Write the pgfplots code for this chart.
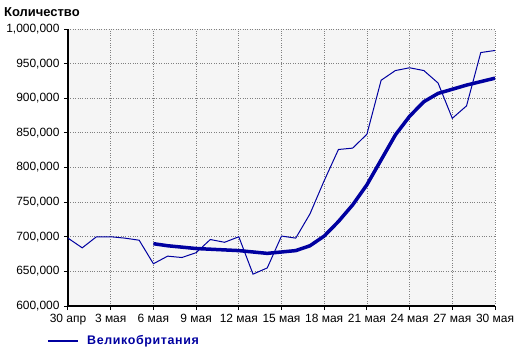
\documentclass[border=0pt]{standalone}
\usepackage{fontspec}
\setmainfont{Liberation Sans}
\usepackage{pgfplots}
\pgfplotsset{compat=1.18}
\definecolor{lineblue}{RGB}{0,0,160}
\definecolor{bgc}{RGB}{245,245,245}
\definecolor{gridc}{RGB}{128,128,128}
\begin{document}
\begin{tikzpicture}[x=1bp,y=1bp]
\useasboundingbox (-68bp,-47bp) rectangle (452bp,306bp);
\begin{axis}[
  at={(0,0)}, anchor=south west,
  scale only axis, width=427bp, height=277bp,
  xmin=0, xmax=30, ymin=600000, ymax=1000000,
  axis x line=bottom, axis y line=left,
  axis line style={black, line width=2bp, -},
  axis background/.style={fill=bgc},
  xtick={0,3,...,30},
  xticklabels={30 апр,3 мая,6 мая,9 мая,12 мая,15 мая,18 мая,21 мая,24 мая,27 мая,30 мая},
  ytick={600000,650000,...,1000000},
  scaled y ticks=false,
  /pgf/number format/fixed,
  /pgf/number format/1000 sep={,},
  /pgf/number format/assume math mode=true,
  tick label style={font=\fontsize{12}{14}\selectfont, black},
  xticklabel style={yshift=-1bp},
  yticklabel style={xshift=-1bp},
  tick style={black, line width=1bp},
  major tick length=4bp,
  tick align=outside,
  grid=major,
  major grid style={gridc, dotted, line width=0.8bp},
  clip=false,
]
\addplot[lineblue, line width=1bp] coordinates {
(0,698000) (1,684000) (2,700000) (3,700000) (4,698000) (5,695000)
(6,661000) (7,672000) (8,670000) (9,677000) (10,696000) (11,692000)
(12,700000) (13,646000) (14,655000) (15,701000) (16,698000) (17,733000)
(18,781000) (19,826000) (20,828000) (21,848000) (22,926000) (23,940000)
(24,944000) (25,940000) (26,922000) (27,871000) (28,889000) (29,966000)
(30,969000)
};
\addplot[lineblue, line width=3.5bp] coordinates {
(6,690000) (7,687000) (8,685000) (9,683000) (10,682000) (11,681000)
(12,680000) (13,678000) (14,676000) (15,678000) (16,680000) (17,687000)
(18,701000) (19,722000) (20,746000) (21,775000) (22,811000) (23,847000)
(24,874000) (25,895000) (26,907000) (27,913000) (28,919000) (29,924000)
(30,929000)
};
\end{axis}
\node[anchor=west, inner sep=0pt, font=\fontsize{13}{15}\selectfont\bfseries] at (-64bp,294bp) {Количество};
\draw[lineblue, line width=2.5bp] (-20bp,-35bp) -- (10bp,-35bp);
\node[anchor=west, inner sep=0pt, text=lineblue, font=\fontsize{12.5}{14}\selectfont\bfseries\addfontfeature{LetterSpace=5}] at (19bp,-35bp) {Великобритания};
\end{tikzpicture}
\end{document}
